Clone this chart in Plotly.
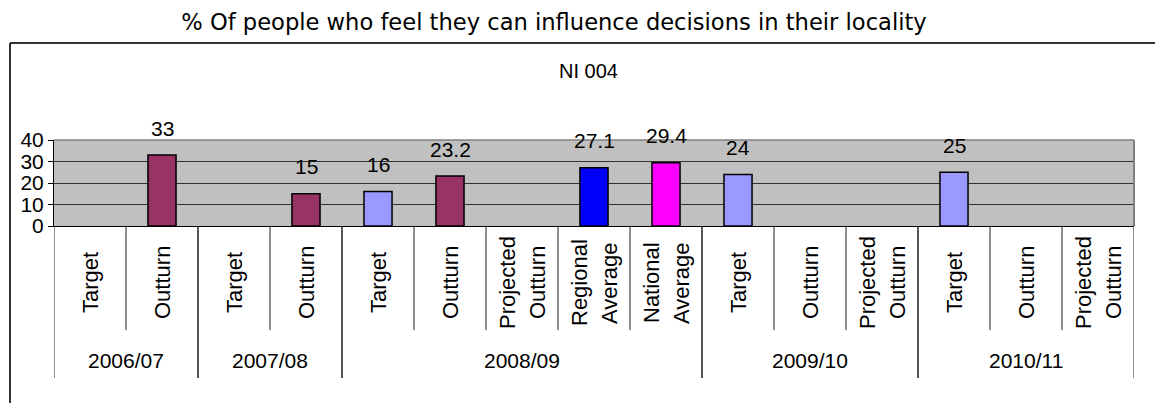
import plotly.graph_objects as go

# Data
years = ["2006/07", "2007/08", "2008/09", "2009/10", "2010/11"]
year_sizes = [2, 2, 5, 3, 3]
labels = [
    "Target", "Outturn",
    "Target", "Outturn",
    "Target", "Outturn", "Projected\nOutturn", "Regional\nAverage", "National\nAverage",
    "Target", "Outturn", "Projected\nOutturn",
    "Target", "Outturn", "Projected\nOutturn",
]
values = [None, 33, None, 15, 16, 23.2, None, 27.1, 29.4, 24, None, None, 25, None, None]

colour_for = {
    "Target": "#9999FF",
    "Outturn": "#993366",
    "Projected\nOutturn": "#993366",
    "Regional\nAverage": "#0000FF",
    "National\nAverage": "#FF00FF",
}

FONT = "Arial, Liberation Sans, sans-serif"
# page is shown with the default 8px body margin, so the figure is shrunk by that
OFF = 8
W, H = 1163 - OFF, 403 - OFF
L, R, T, B = 54 - OFF, 29, 140 - OFF, 177
plot_h = H - T - B
plot_w = W - L - R

def py(px):
    # pixel offset below/above the x axis -> paper y
    return px / plot_h

xs = list(range(len(labels)))

fig = go.Figure()
fig.add_trace(go.Bar(
    x=xs,
    y=values,
    width=0.39,
    marker=dict(color=[colour_for[l] for l in labels], line=dict(color="black", width=1.5)),
    showlegend=False,
    hoverinfo="skip",
))

annotations = []
# value labels above the bars
for x, v in zip(xs, values):
    if v is None:
        continue
    annotations.append(dict(
        x=x, y=v, xref="x", yref="y", text=f"{v:g}", showarrow=False,
        yshift=27, yanchor="middle", font=dict(family=FONT, size=21, color="black"),
    ))

# rotated category labels
for x, lab in zip(xs, labels):
    parts = lab.split("\n")
    n = len(parts)
    for j, part in enumerate(parts):
        annotations.append(dict(
            x=x, y=0, xref="x", yref="paper", text=part, showarrow=False,
            textangle=-90, xanchor="center", yanchor="middle",
            yshift=-57, xshift=(j - (n - 1) / 2) * 30,
            font=dict(family=FONT, size=22, color="black"),
        ))

# year labels and dividers
shapes = []
start = 0
for yr, size in zip(years, year_sizes):
    annotations.append(dict(
        x=start + (size - 1) / 2, y=0, xref="x", yref="paper", text=yr, showarrow=False,
        yshift=-134, yanchor="middle", font=dict(family=FONT, size=21, color="black"),
    ))
    for k in range(start, start + size + 1):
        long_line = k == start or k == start + size
        shapes.append(dict(
            type="line", xref="x", yref="paper", x0=k - 0.5, x1=k - 0.5,
            y0=0, y1=-py(152 if long_line else 104),
            line=dict(color="#202020", width=1),
        ))
    start += size

annotations.append(dict(
    x=(588 - 54) / plot_w, y=py(226 - 71), xref="paper", yref="paper", text="NI 004",
    showarrow=False, xanchor="center", yanchor="middle",
    font=dict(family=FONT, size=20, color="black"),
))

# plot area top / right border
shapes.append(dict(type="line", xref="paper", yref="paper", x0=0, x1=1, y0=1, y1=1,
                   line=dict(color="#808080", width=1.5)))
shapes.append(dict(type="line", xref="paper", yref="paper", x0=1, x1=1, y0=0, y1=1,
                   line=dict(color="#808080", width=2)))
# outer chart frame (left and top edges visible)
fx0 = (10 - 54) / plot_w
fy1 = py(226 - 43)
shapes.append(dict(type="line", xref="paper", yref="paper", x0=fx0, x1=1.2, y0=fy1, y1=fy1,
                   line=dict(color="#333333", width=2)))
shapes.append(dict(type="line", xref="paper", yref="paper", x0=fx0, x1=fx0, y0=fy1, y1=-py(200),
                   line=dict(color="#333333", width=2)))

fig.update_layout(
    width=W, height=H,
    margin=dict(l=L, r=R, t=T, b=B),
    paper_bgcolor="white",
    plot_bgcolor="#C0C0C0",
    title=dict(
        text="% Of people who feel they can influence decisions in their locality",
        x=(554 - OFF) / W, y=1 - (22 - OFF) / H, xanchor="center", yanchor="middle",
        font=dict(family="DejaVu Sans, Verdana, sans-serif", size=22.6, color="black"),
    ),
    bargap=0.61,
    xaxis=dict(
        range=[-0.5, len(labels) - 0.5], showticklabels=False, ticks="",
        showgrid=False, zeroline=False, showline=True, linecolor="black", linewidth=1,
        fixedrange=True,
    ),
    yaxis=dict(
        range=[0, 40], tickvals=[0, 10, 20, 30, 40], ticks="outside", ticklen=5,
        tickcolor="black", showline=True, linecolor="black", linewidth=1,
        showgrid=True, gridcolor="#333333", gridwidth=1, zeroline=False,
        tickfont=dict(family=FONT, size=21, color="black"), fixedrange=True,
    ),
    annotations=annotations,
    shapes=shapes,
)

fig.write_html("out.html")
